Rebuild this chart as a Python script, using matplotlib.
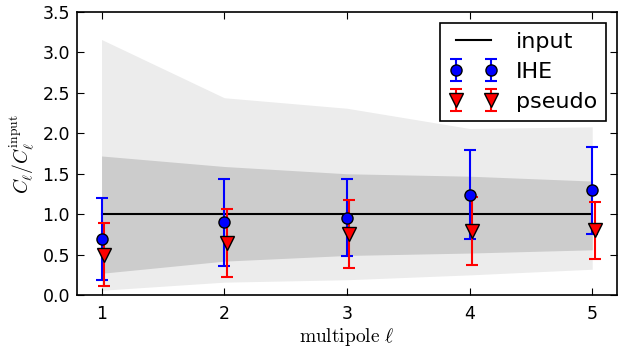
import matplotlib
matplotlib.use('Agg')
import matplotlib.pyplot as plt
import numpy as np

ell = [1, 2, 3, 4, 5]

# 95% and 68% bands of C_l / C_l^input
band95_lo = [0.06, 0.16, 0.19, 0.25, 0.32]
band95_hi = [3.16, 2.44, 2.31, 2.06, 2.08]
band68_lo = [0.27, 0.42, 0.49, 0.52, 0.56]
band68_hi = [1.72, 1.59, 1.50, 1.47, 1.41]

ihe = [0.69, 0.90, 0.955, 1.24, 1.295]
ihe_err = [0.505, 0.535, 0.475, 0.55, 0.535]
pseudo = [0.50, 0.645, 0.75, 0.79, 0.80]
pseudo_err = [0.39, 0.415, 0.42, 0.42, 0.35]

plt.rcParams['mathtext.fontset'] = 'cm'
plt.rcParams['xtick.direction'] = 'in'
plt.rcParams['ytick.direction'] = 'in'
plt.rcParams['xtick.top'] = True
plt.rcParams['ytick.right'] = True
plt.rcParams['xtick.major.size'] = 5
plt.rcParams['ytick.major.size'] = 5

fig = plt.figure(figsize=(6.18, 3.53), dpi=100)
ax = fig.add_axes([0.1246, 0.164, 0.8734, 0.802])

ax.fill_between(ell, band95_lo, band95_hi, color='#ececec', lw=0)
ax.fill_between(ell, band68_lo, band68_hi, color='#cccccc', lw=0)
ax.plot(ell, np.ones(len(ell)), 'k-', lw=1.5, label='input')

ax.errorbar(ell, ihe, yerr=ihe_err, fmt='o', color='b', ecolor='b', mec='k',
            ms=8, capsize=4.5, elinewidth=1.5, capthick=1.5, label='IHE')
ax.errorbar(np.array(ell) + 0.02, pseudo, yerr=pseudo_err, fmt='v', color='r',
            ecolor='r', mec='k', ms=9.5, capsize=4.5, elinewidth=1.5, capthick=1.5,
            label='pseudo')

ax.set_xlim(0.8, 5.2)
ax.set_ylim(0, 3.5)
ax.set_xticks(ell)
ax.set_yticks(np.arange(0, 3.51, 0.5))
ax.tick_params(axis='x', labelsize=12.5, pad=7)
ax.tick_params(axis='y', labelsize=12.5, pad=5)
for s in ax.spines.values():
    s.set_linewidth(1.2)

ax.set_xlabel(r'$\mathrm{multipole}\ \ell$', fontsize=14, labelpad=2)
ax.set_ylabel(r'$C_\ell/C_\ell^{\rm input}$', fontsize=14)

leg = ax.legend(loc='upper right', numpoints=2, fontsize=16, fancybox=False,
                framealpha=1, borderaxespad=0.5, handlelength=2.2,
                labelspacing=0.45)
leg.get_frame().set_edgecolor('k')
leg.get_frame().set_linewidth(1.2)

fig.savefig('out.png', dpi=100)
